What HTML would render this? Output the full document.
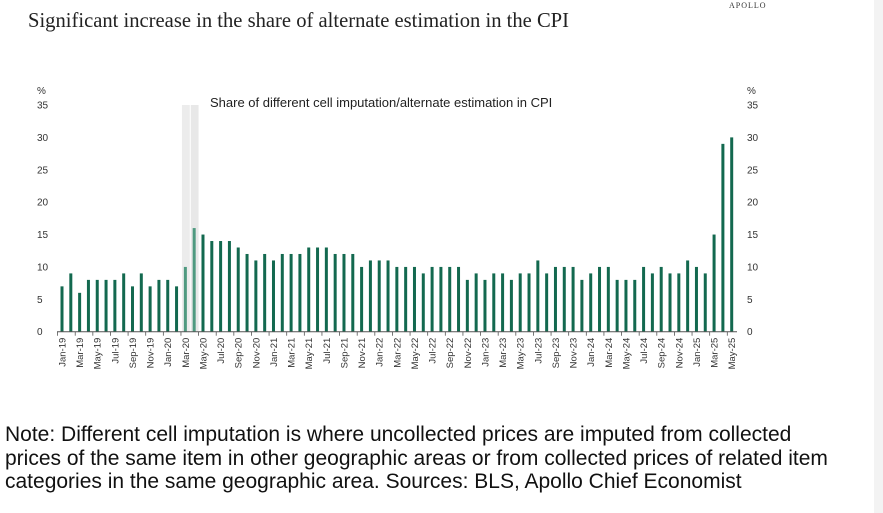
<!DOCTYPE html>
<html><head><meta charset="utf-8"><style>
body{margin:0;width:883px;height:513px;background:#fff;position:relative;overflow:hidden;font-family:"Liberation Sans",sans-serif}
#title{position:absolute;left:28px;top:10px;font-family:"Liberation Serif",serif;font-size:20.6px;color:#222}
#brand{position:absolute;left:729px;top:1px;font-family:"Liberation Serif",serif;font-size:8px;letter-spacing:1px;color:#333}
#note{position:absolute;left:5px;top:423px;font-size:21px;line-height:23.5px;color:#111;width:830px}
#strip{position:absolute;left:874px;top:0;width:9px;height:513px;background:#f3f3f3}
svg{position:absolute;left:0;top:0}
</style></head><body>
<div id="title">Significant increase in the share of alternate estimation in the CPI</div>
<div id="brand">APOLLO</div>
<div id="strip"></div>
<svg id="chart" width="883" height="420"></svg>
<div id="note">Note: Different cell imputation is where uncollected prices are imputed from collected prices of the same item in other geographic areas or from collected prices of related item categories in the same geographic area. Sources: BLS, Apollo Chief Economist</div>
<script>
const months=["Jan","Feb","Mar","Apr","May","Jun","Jul","Aug","Sep","Oct","Nov","Dec"];
const values2019=[7,9,6,8,8,8,8,9,7,9,7,8];
const values2020=[8,7,10,16,15,14,14,14,13,12,11,12];
const values2021=[11,12,12,12,13,13,13,12,12,12,10,11];
const values2022=[11,11,10,10,10,9,10,10,10,10,8,9];
const values2023=[8,9,9,8,9,9,11,9,10,10,10,8];
const values2024=[9,10,10,8,8,8,10,9,10,9,9,11];
const values2025=[10,9,15,29,30];
const yTicks=[0,5,10,15,20,25,30,35];
const values=[].concat(values2019,values2020,values2021,values2022,values2023,values2024,values2025);
const categories=values.map((v,i)=>months[i%12]+"-"+String(19+Math.floor(i/12)));
const highlight=["Mar-20","Apr-20"];
const NS="http://www.w3.org/2000/svg";
const svg=document.getElementById('chart');
const x0=62,step=(731.7-62)/76,yBase=331.7,yTop=105;
const xs=i=>x0+i*step;
const ys=v=>yBase-(v/35)*(yBase-yTop);
function mk(t,a){const e=document.createElementNS(NS,t);for(const k in a)e.setAttribute(k,a[k]);svg.appendChild(e);return e;}
highlight.forEach((c,j)=>{const i=categories.indexOf(c);
 const r=mk('rect',{x:xs(i)-step/2+1,y:yTop,width:step-1,height:yBase-yTop,fill:j?'#e8e8e8':'#ececec'});
 
 });
yTicks.forEach(t=>{[37,747].forEach((x,s)=>{const e=mk('text',{x:x,y:ys(t)+3.5,'font-size':'10','fill':'#333','font-family':'Liberation Sans, sans-serif'});e.textContent=t;
 
 });});
[37,747].forEach(x=>{const e=mk('text',{x:x,y:94,'font-size':'10',fill:'#333'});e.textContent='%';
 
 });
values.forEach((v,i)=>{const hl=highlight.includes(categories[i]);
 const r=mk('rect',{x:xs(i)-1.5,y:ys(v),width:3,height:yBase-ys(v),fill:hl?'#4f9a80':'#13694f'});
 
 });
const ax=mk('line',{x1:57,x2:737,y1:yBase,y2:yBase,stroke:'#555','stroke-width':1});


categories.forEach((c,i)=>{if(i%2===0){
 const tk=mk('line',{x1:xs(i)-step/2,x2:xs(i)-step/2,y1:yBase,y2:yBase+4,stroke:'#555','stroke-width':0.8});
 
 
 const t=mk('text',{x:0,y:0,'font-size':'9.5',fill:'#333','text-anchor':'end',transform:`translate(${xs(i)+3.5},${yBase+6}) rotate(-90)`});
 t.textContent=c;
 
 }});
const st=mk('text',{x:210,y:107,'font-size':'13',fill:'#222'});st.textContent='Share of different cell imputation/alternate estimation in CPI';


</script>
</body></html>
